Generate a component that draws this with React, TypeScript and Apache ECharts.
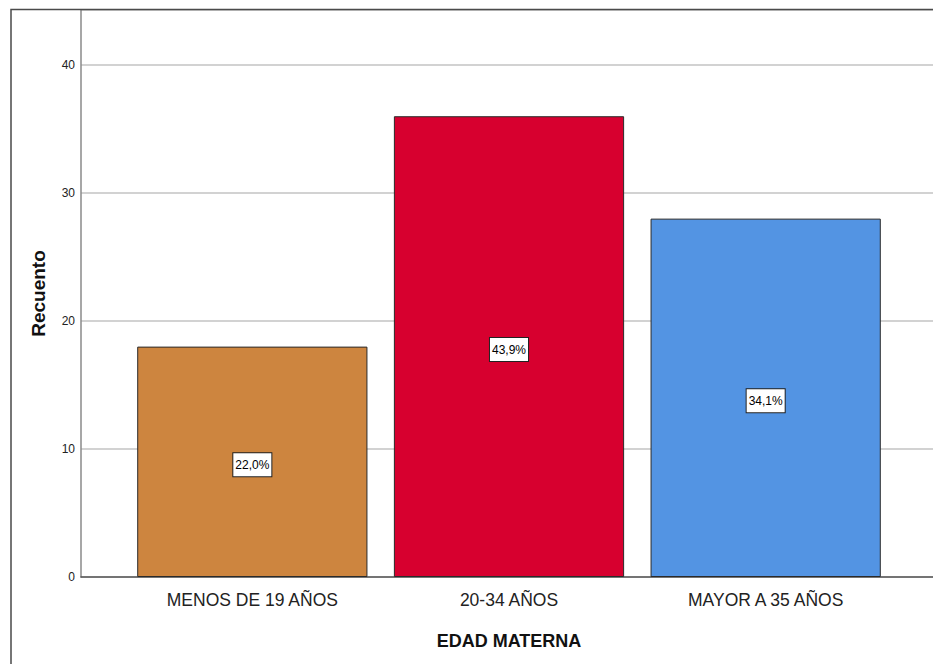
import React, { useEffect, useRef } from "react";
import * as echarts from "echarts";

const categories = ["MENOS DE 19 AÑOS", "20-34 AÑOS", "MAYOR A 35 AÑOS"];
const counts = [18, 36, 28];
const percentLabels = ["22,0%", "43,9%", "34,1%"];
const barColors = ["#CD853F", "#D7002F", "#5394E3"];
const yTicks = [0, 10, 20, 30, 40];

const Y_MAX = 44.3;
const FONT = "'Liberation Sans', Arial, sans-serif";

export default function App() {
  const ref = useRef<HTMLDivElement>(null);

  useEffect(() => {
    if (!ref.current) return;
    const chart = echarts.init(ref.current, undefined, { renderer: "svg" });

    const option = {
      animation: false,
      backgroundColor: "#ffffff",
      textStyle: { fontFamily: FONT },
      graphic: [
        {
          type: "rect",
          shape: { x: 11, y: 9.5, width: 960, height: 700 },
          style: { fill: "none", stroke: "#4a4a4a", lineWidth: 1.5 },
          silent: true,
          z: 100,
        },
      ],
      grid: [
        { left: 81, right: 0, top: 10, bottom: 87 },
        { left: 124, right: 39, top: 10, bottom: 87 },
      ],
      xAxis: [
        {
          type: "value",
          gridIndex: 0,
          min: 0,
          max: 1,
          axisLine: { show: true, lineStyle: { color: "#555555", width: 1.5 } },
          axisTick: { show: false },
          axisLabel: { show: false },
          splitLine: { show: false },
        },
        {
          type: "category",
          gridIndex: 1,
          data: categories,
          axisLine: { show: false },
          axisTick: { show: false },
          axisLabel: {
            color: "#222222",
            fontSize: 17.5,
            fontFamily: FONT,
            margin: 14,
          },
          name: "EDAD MATERNA",
          nameLocation: "middle",
          nameGap: 55,
          nameTextStyle: {
            fontSize: 18,
            fontWeight: "bold",
            color: "#111111",
            fontFamily: FONT,
          },
        },
      ],
      yAxis: [
        {
          type: "value",
          gridIndex: 0,
          min: 0,
          max: Y_MAX,
          interval: 10,
          axisLine: { show: true, lineStyle: { color: "#8a8a8a", width: 1.5 } },
          axisTick: { show: false },
          axisLabel: {
            color: "#222222",
            fontSize: 12,
            fontFamily: FONT,
            margin: 6,
            formatter: (v: number) => (yTicks.includes(v) ? String(v) : ""),
          },
          splitLine: { show: true, lineStyle: { color: "#d2d2d2", width: 2 } },
          name: "Recuento",
          nameLocation: "middle",
          nameGap: 33,
          nameRotate: 90,
          nameTextStyle: {
            fontSize: 19,
            fontWeight: "bold",
            color: "#111111",
            fontFamily: FONT,
          },
        },
        {
          type: "value",
          gridIndex: 1,
          min: 0,
          max: Y_MAX,
          interval: 10,
          show: false,
          splitLine: { show: false },
        },
      ],
      series: [
        {
          type: "bar",
          xAxisIndex: 1,
          yAxisIndex: 1,
          barWidth: "89.7%",
          data: counts.map((v, i) => ({
            value: v,
            itemStyle: { color: barColors[i], borderColor: "#2a2a2a", borderWidth: 1 },
          })),
          label: {
            show: true,
            position: "inside",
            offset: [0, 3],
            formatter: (p: any) => percentLabels[p.dataIndex],
            color: "#000000",
            fontSize: 12,
            fontFamily: FONT,
            backgroundColor: "#ffffff",
            borderColor: "#222222",
            borderWidth: 1,
            padding: [6, 2, 5, 2],
          },
        },
      ],
    };

    chart.setOption(option as any);
    return () => chart.dispose();
  }, []);

  return (
    <div
      ref={ref}
      style={{ position: "fixed", left: 0, top: 0, width: 933, height: 664 }}
    />
  );
}
